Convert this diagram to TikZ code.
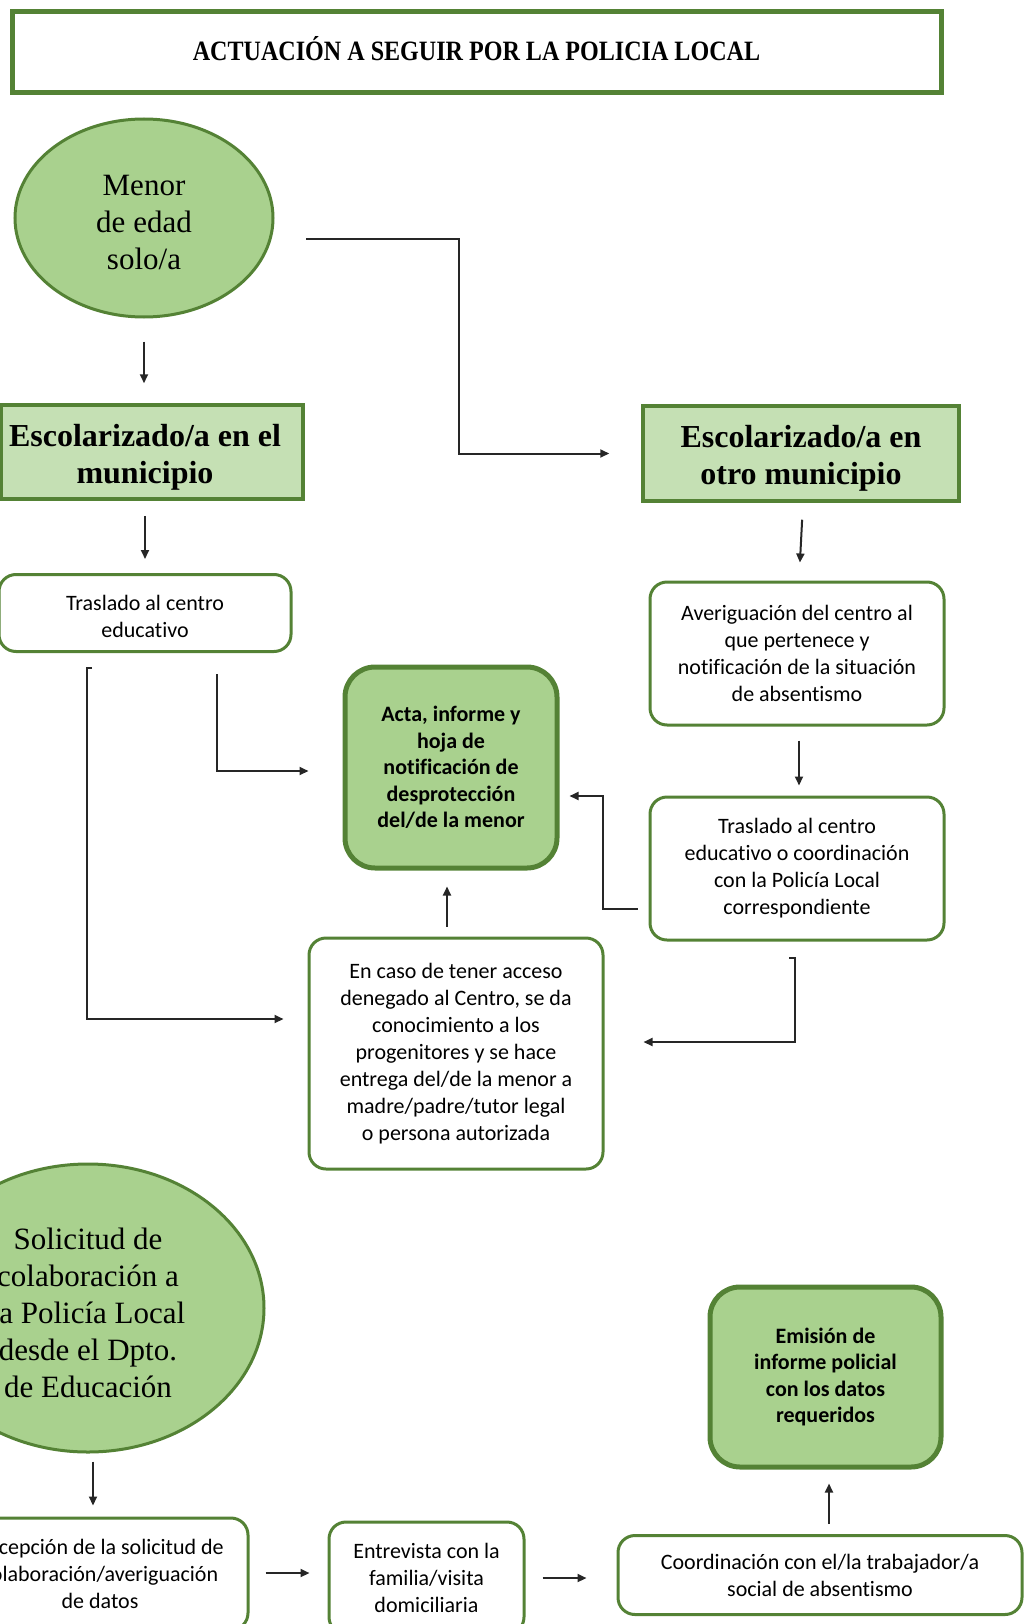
\documentclass[tikz,border=0pt]{standalone}
\usepackage{fontspec}
\setmainfont{Liberation Serif}
\newfontfamily\calfont[Ligatures=NoCommon]{Carlito}
\usetikzlibrary{arrows.meta,shapes.geometric,calc}
\definecolor{gborder}{HTML}{548235}
\definecolor{gfill}{HTML}{A9D18E}
\definecolor{gpale}{HTML}{C5E0B4}
\begin{document}
\begin{tikzpicture}[x=1pt,y=-1pt,
  arr/.style={draw=black!85, line width=2pt, -{Triangle[length=9pt,width=8pt]}},
  titlebox/.style={draw=gborder, line width=5pt, fill=white, minimum width=929pt, minimum height=81pt, inner sep=0pt},
  titletext/.style={inner sep=0pt, font=\fontsize{28}{34}\selectfont\bfseries},
  oval/.style={ellipse, draw=gborder, line width=3pt, fill=gfill, inner sep=0pt},
  ovaltext/.style={inner sep=0pt, align=center, font=\fontsize{31}{37}\selectfont},
  headbox/.style={draw=gborder, line width=3.5pt, fill=gpale, inner sep=0pt},
  headtext/.style={inner sep=0pt, align=center, font=\fontsize{32}{37}\selectfont\bfseries},
  stepbox/.style={draw=gborder, line width=3pt, fill=white, rounded corners=17pt, inner sep=0pt, align=center, font=\calfont\fontsize{22}{27}\selectfont},
  steptext/.style={inner sep=0pt, align=center, font=\calfont\fontsize{22}{27}\selectfont},
  keybox/.style={draw=gborder, line width=5pt, fill=gfill, rounded corners=30pt, inner sep=0pt, align=center, font=\calfont\bfseries\fontsize{22}{26.5}\selectfont},
]
\useasboundingbox (0,0) rectangle (1024,1624);

% title
\node[titlebox] (title) at (476.5,52.5) {};
\node[titletext] (titlet) at ([yshift=3.5pt]title.center) {\scalebox{0.86}[1]{ACTUACIÓN A SEGUIR POR LA POLICIA LOCAL}};

% upper part
\node[oval, minimum width=258pt, minimum height=198pt] (m1) at (144,218) {};
\node[ovaltext] (m1t) at ([yshift=-5pt]m1.center) {Menor\\de edad\\solo/a};
\node[headbox, minimum width=302pt, minimum height=94pt] (esc1) at (152,452) {};
\node[headtext] (esc1t) at ([xshift=-7pt,yshift=-5pt]esc1.center) {Escolarizado/a en el\\municipio};
\node[headbox, minimum width=316pt, minimum height=95pt] (esc2) at (801,453.5) {};
\node[headtext] (esc2t) at ([yshift=-5pt]esc2.center) {Escolarizado/a en\\otro municipio};

\node[stepbox, minimum width=292pt, minimum height=77pt] (tras1) at (145,613) {};
\node[steptext] (tras1t) at ([yshift=-3pt]tras1.center) {Traslado al centro\\educativo};
\node[keybox, minimum width=212pt, minimum height=201pt] (acta) at (451,767.5) {Acta, informe y\\hoja de\\notificación de\\desprotección\\del/de la menor};
\node[stepbox, minimum width=294pt, minimum height=143pt] (aver) at (797,653.5) {Averiguación del centro al\\que pertenece y\\notificación de la situación\\de absentismo};
\node[stepbox, minimum width=294pt, minimum height=143pt] (tras2) at (797,868.5) {Traslado al centro\\educativo o coordinación\\con la Policía Local\\correspondiente};
\node[stepbox, minimum width=294pt, minimum height=231pt] (caso) at (456,1053.5) {En caso de tener acceso\\denegado al Centro, se da\\conocimiento a los\\progenitores y se hace\\entrega del/de la menor a\\madre/padre/tutor legal\\o persona autorizada};

% lower part
\node[oval, minimum width=352pt, minimum height=288pt] (sol) at (88,1308) {};
\node[ovaltext] (solt) at ([yshift=-5pt]sol.center) {Solicitud de\\colaboración a\\la Policía Local\\desde el Dpto.\\de Educación};
\node[stepbox, minimum width=296pt, minimum height=112pt] (rec) at (100,1574) {Recepción de la solicitud de\\colaboración/averiguación\\de datos};
\node[stepbox, minimum width=195pt, minimum height=112pt] (ent) at (426.5,1578) {Entrevista con la\\familia/visita\\domiciliaria};
\node[stepbox, minimum width=404pt, minimum height=79pt] (coord) at (820,1575) {Coordinación con el/la trabajador/a\\social de absentismo};
\node[keybox, minimum width=231pt, minimum height=180pt] (emi) at (825.5,1377) {Emisión de\\informe policial\\con los datos\\requeridos};

% helper coordinates
\coordinate (c1) at (306,239);
\coordinate (k1) at (459,453.5);
\coordinate (k2) at (217,771);
\coordinate (t1) at (92,668);
\coordinate (t2) at (87,668);
\coordinate (t3) at (87,1019);
\coordinate (k4) at (603,909);
\coordinate (k5) at (603,796);
\coordinate (t4) at (789,958);
\coordinate (t5) at (795,958);
\coordinate (t6) at (795,1042);

% connectors
\draw[arr, shorten <=23pt, shorten >=20pt] (m1.south) -- (m1.south |- esc1.north);
\draw[arr, shorten >=32pt] (c1) -| (k1) -- (esc2.west);
\draw[arr, shorten <=15pt, shorten >=14pt] (esc1.south -| tras1.north) -- (tras1.north);
\draw[arr, shorten <=21pt, shorten >=34pt] (tras1.south -| k2) -- (k2) -- (k2 -| acta.west);
\draw[arr, shorten >=24pt] (t1) -- (t2) -- (t3) -- (t3 -| caso.west);
\draw[arr, shorten <=17pt, shorten >=18pt] ([xshift=2pt]esc2.south) -- ([xshift=2pt]aver.north);
\draw[arr, shorten <=14pt, shorten >=10pt] ([xshift=2pt]aver.south) -- ([xshift=2pt]tras2.north);
\draw[arr, shorten <=11pt, shorten >=10pt] (k4 -| tras2.west) -- (k4) -- (k5) -- (k5 -| acta.east);
\draw[arr, shorten >=39pt] (t4) -- (t5) -- (t6) -- (t6 -| caso.east);
\draw[arr, shorten <=10pt, shorten >=16pt] ([xshift=-9pt]caso.north) -- ([xshift=-9pt]caso.north |- acta.south);
\draw[arr, shorten <=8pt, shorten >=11pt] ([xshift=5pt]sol.south) -- ([xshift=5pt]sol.south |- rec.north);
\draw[arr, shorten <=16pt, shorten >=18pt] ([yshift=1pt]rec.east) -- ([yshift=1pt]rec.east -| ent.west);
\draw[arr, shorten <=17pt, shorten >=30pt] (ent.east) -- (ent.east -| coord.west);
\draw[arr, shorten <=10pt, shorten >=14pt] ([xshift=9pt]coord.north) -- ([xshift=9pt]coord.north |- emi.south);
\end{tikzpicture}
\end{document}
